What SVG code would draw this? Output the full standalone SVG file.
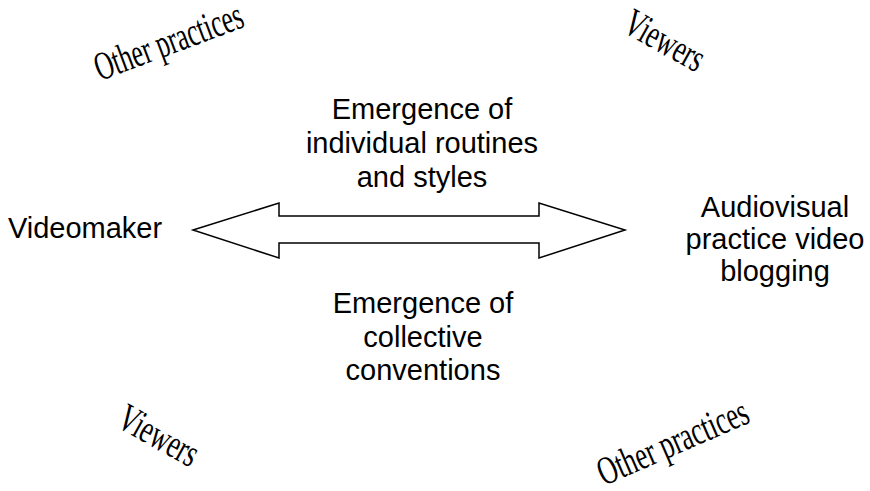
<svg xmlns="http://www.w3.org/2000/svg" width="870" height="491" viewBox="0 0 870 491">
<style>
.s{font-family:"Liberation Sans",Arial,sans-serif;font-size:29px;fill:#000;text-anchor:middle}
.r{font-family:"Liberation Serif","Times New Roman",serif;font-size:40px;fill:#000}
</style>
<rect width="870" height="491" fill="#fff"/>
<g id="connectors">
<path d="M193,230 L279,203 L279,216 L539,216 L539,203 L625,230 L539,258 L539,243 L279,243 L279,258 Z" fill="#fff" stroke="#000" stroke-width="1.5"/>
</g>
<g id="videomaker"><text class="s" x="85" y="238">Videomaker</text></g>
<g id="audiovisual"><text class="s" x="775" y="217">Audiovisual</text><text class="s" x="775" y="249">practice video</text><text class="s" x="775" y="281">blogging</text></g>
<g id="individual"><text class="s" x="422" y="119">Emergence of</text><text class="s" x="422" y="153">individual routines</text><text class="s" x="422" y="187">and styles</text></g>
<g id="collective"><text class="s" x="423" y="313">Emergence of</text><text class="s" x="423" y="347">collective</text><text class="s" x="423" y="380">conventions</text></g>
<g id="other1"><text class="r" transform="translate(100,81) rotate(-20.5)" textLength="156" lengthAdjust="spacingAndGlyphs">Other practices</text></g>
<g id="viewers1"><text class="r" transform="translate(621,31) rotate(29)" textLength="86" lengthAdjust="spacingAndGlyphs">Viewers</text></g>
<g id="viewers2"><text class="r" transform="translate(115,426) rotate(29)" textLength="86" lengthAdjust="spacingAndGlyphs">Viewers</text></g>
<g id="other2"><text class="r" transform="translate(604,486) rotate(-23.5)" textLength="161" lengthAdjust="spacingAndGlyphs">Other practices</text></g>
</svg>
